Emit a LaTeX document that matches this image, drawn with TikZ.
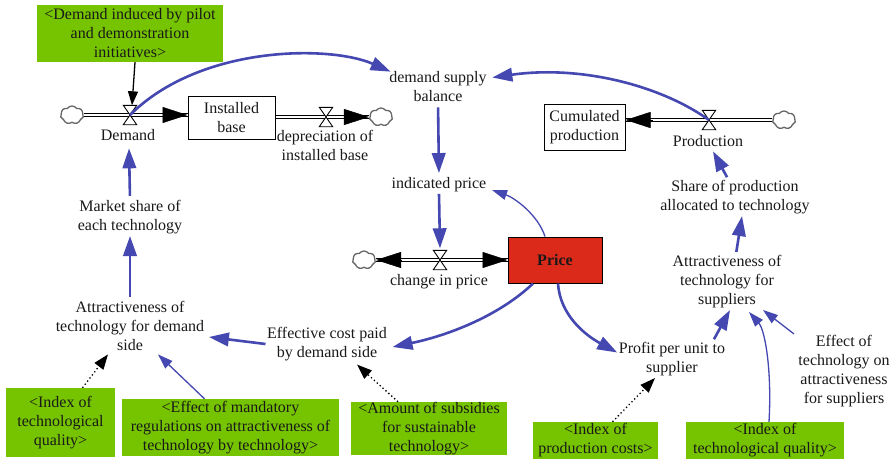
\documentclass[tikz,border=0pt]{standalone}
\usepackage{fontspec}
\setmainfont{Liberation Serif}
\usetikzlibrary{arrows.meta,shapes.symbols,calc}
\definecolor{lnk}{RGB}{68,72,176}
\definecolor{vgreen}{RGB}{118,196,0}
\definecolor{pricered}{RGB}{220,42,26}
\definecolor{txtc}{RGB}{25,25,25}
\begin{document}
\begin{tikzpicture}[x=1pt,y=-1pt,
  txt/.style={font=\fontsize{16}{19}\selectfont, align=center, inner sep=1.5pt, text=txtc},
  gbox/.style={txt, fill=vgreen, inner sep=0pt},
  stock/.style={txt, draw=black, line width=1pt, fill=white, inner sep=0pt},
  valve/.style={minimum width=13pt, minimum height=19pt, inner sep=0pt},
  bowtie/.style={draw=black, fill=white, line width=0.9pt, line join=miter},
  cloudsrc/.style={cloud, cloud puffs=7, cloud puff arc=110, aspect=1.4, minimum width=23pt, minimum height=18pt, inner sep=0pt, draw=black!60, line width=1.3pt, fill=white},
  pipe/.style={draw=black, line width=0.9pt, double=white, double distance=2.6pt},
  pipehead/.style={draw=black, line width=0.5pt, -{Triangle[length=25pt,width=16pt]}},
  thk/.style={draw=lnk, line width=2.6pt, -{Triangle[length=20pt,width=13.5pt]}},
  thn/.style={draw=lnk, line width=1.3pt, -{Triangle[length=15pt,width=10pt]}},
  blk/.style={draw=black, line width=1.3pt, -{Triangle[length=14pt,width=10pt]}},
  dotarr/.style={draw=black, line width=1.3pt, dash pattern=on 1.3pt off 2.6pt, -{Triangle[length=15pt,width=11pt]}}
]
\fill[white] (0,0) rectangle (896,463);
\useasboundingbox (0,0) rectangle (896,463);

% green shadow variables
\node[gbox, minimum width=186pt, minimum height=57pt] (g1) at (130,33.5) {<Demand induced by pilot\\and demonstration\\initiatives>};
\node[gbox, minimum width=109pt, minimum height=69pt] (lidx) at (60.5,422.5) {<Index of\\technological\\quality>};
\node[gbox, minimum width=217pt, minimum height=57pt] (mand) at (230.5,427.5) {<Effect of mandatory\\regulations on attractiveness of\\technology by technology>};
\node[gbox, minimum width=156pt, minimum height=53pt] (sub) at (429,428.5) {<Amount of subsidies\\for sustainable\\technology>};
\node[gbox, minimum width=125pt, minimum height=37pt] (pc) at (595.5,440.5) {<Index of\\production costs>};
\node[gbox, minimum width=158pt, minimum height=37pt] (ridx) at (765,440.5) {<Index of\\technological quality>};

% stocks
\node[stock, minimum width=87pt, minimum height=43pt] (ib) at (231.5,117.5) {Installed\\base};
\node[stock, minimum width=81pt, minimum height=46pt] (cum) at (584.5,127) {Cumulated\\production};
\node[stock, minimum width=94pt, minimum height=46pt, fill=pricered] (price) at (555,260) {\textbf{Price}};

% clouds
\node[cloudsrc] (cD) at (72,115) {};
\node[cloudsrc] (cDep) at (381,117) {};
\node[cloudsrc] (cP) at (784,120) {};
\node[cloudsrc] (cC) at (364,260) {};

% valves
\node[valve] (vD) at (130,115) {};
\node[valve] (vDep) at (326,117) {};
\node[valve] (vP) at (709,120) {};
\node[valve] (vC) at (440,260) {};

% pipes
\draw[pipe] (cD.east |- vD) -- (ib.west |- vD);
\draw[pipehead] ($(ib.west |- vD)+(-25,0)$) -- (ib.west |- vD);
\draw[pipe] (ib.east |- vDep) -- (cDep.west |- vDep);
\draw[pipehead] ($(cDep.west |- vDep)+(-25,0)$) -- (cDep.west |- vDep);
\draw[pipe] (cP.west |- vP) -- (cum.east |- vP);
\draw[pipehead] ($(cum.east |- vP)+(27,0)$) -- (cum.east |- vP);
\draw[pipe] (cC.east |- vC) -- (price.west |- vC);
\draw[pipehead] ($(cC.east |- vC)+(25,0)$) -- (cC.east |- vC);
\draw[pipehead] ($(price.west |- vC)+(-25,0)$) -- (price.west |- vC);

\foreach \v in {vD,vDep,vP,vC}{
  \draw[bowtie] (\v.north west) -- (\v.north east) -- (\v.south west) -- (\v.south east) -- cycle;
}

% flow labels
\node[txt] (dem) at (128,135) {Demand};
\node[txt] (dep) at (325,145.5) {depreciation of\\installed base};
\node[txt] (prod) at (708,141) {Production};
\node[txt] (chp) at (439,282) {change in price};

% auxiliaries
\node[txt] (dsb) at (438,86.5) {demand supply\\balance};
\node[txt] (ip) at (439,185) {indicated price};
\node[txt] (ms) at (130,217.5) {Market share of\\each technology};
\node[txt] (ad) at (130,326) {Attractiveness of\\technology for demand\\side};
\node[txt] (ec) at (327,344) {Effective cost paid\\by demand side};
\node[txt] (ppu) at (672,359.5) {Profit per unit to\\supplier};
\node[txt] (as) at (727,282) {Attractiveness of\\technology for\\suppliers};
\node[txt] (sp) at (735,197.5) {Share of production\\allocated to technology};
\node[txt] (eff) at (844,371.5) {Effect of\\technology on\\attractiveness\\for suppliers};

% connectors
\draw[blk] ([xshift=5pt]g1.south) -- ([xshift=2pt]vD.north);
\draw[thk] (vD.center) .. controls (200,45) and (330,45) .. ([xshift=3pt,yshift=-2pt]dsb.north west);
\draw[thk] (vP.center) .. controls (660,85) and (580,65) .. ([xshift=4pt,yshift=9pt]dsb.east);
\draw[thk, shorten <=4pt, shorten >=3pt] (dsb.south) -- (ip.north);
\draw[thk] (ip.south) -- ([yshift=2pt]vC.north);
\draw[thn] ([xshift=-10pt]price.north) .. controls (538,215) and (515,198) .. ([xshift=4pt,yshift=-5pt]ip.east);
\draw[thk] ([xshift=-22pt]price.south) .. controls (500,315) and (450,335) .. ([xshift=4pt,yshift=-3pt]ec.east);
\draw[thk] ([xshift=3pt]price.south) .. controls (560,315) and (585,335) .. ([yshift=7pt]ppu.west);
\draw[thk] (ec.west) -- ([xshift=3pt,yshift=-11pt]ad.east);
\draw[thk, shorten <=3pt] (ad.north) -- (ms.south);
\draw[thk, shorten <=3pt] (ms.north) -- ([xshift=1pt,yshift=-6pt]dem.south);
\draw[dotarr] ([xshift=22pt]lidx.north) -- ([xshift=-22pt,yshift=-2pt]ad.south);
\draw[thn] ([xshift=-26pt]mand.north) -- ([xshift=28pt,yshift=-2pt]ad.south);
\draw[dotarr] ([xshift=-31pt]sub.north) -- ([xshift=30pt,yshift=-2pt]ec.south);
\draw[dotarr] ([xshift=17pt]pc.north) -- ([xshift=-17pt]ppu.south);
\draw[thk, shorten <=2pt] ([xshift=41pt]ppu.north) -- ([xshift=3pt]as.south);
\draw[thn] ([xshift=4pt]ridx.north) .. controls (772,370) and (765,330) .. ([xshift=22pt,yshift=-2pt]as.south);
\draw[thn] ([xshift=-50pt]eff.north) -- ([xshift=36pt]as.south);
\draw[thk, shorten <=2pt] ([xshift=9pt]as.north) -- ([xshift=7pt]sp.south);
\draw[thk, shorten <=2pt] ([xshift=-7pt]sp.north) -- ([xshift=5pt,yshift=-3pt]prod.south);
\end{tikzpicture}
\end{document}
